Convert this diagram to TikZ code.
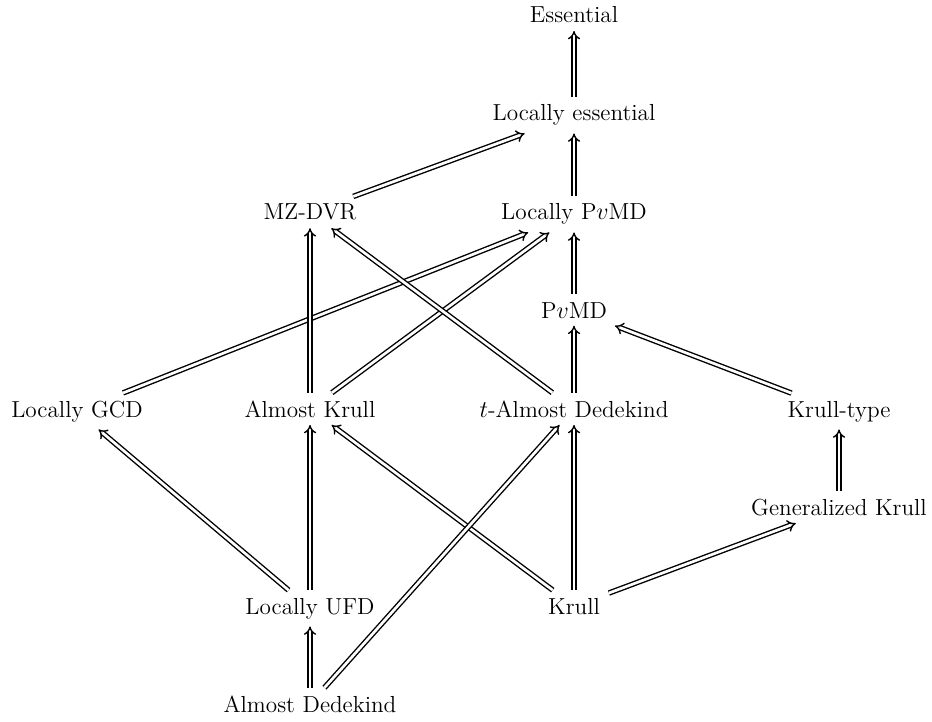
\documentclass[tikz,border=0pt]{standalone}
\usetikzlibrary{arrows.meta}
\begin{document}
\begin{tikzpicture}[x=0.5pt,y=-0.5pt,
  cell/.style={anchor=base,inner xsep=1ex,inner ysep=0.85ex,font=\fontsize{11.6}{13}\selectfont},
  impl/.style={double,double distance=1.35pt,line width=0.7pt,-{Implies}}]
\useasboundingbox (0,0) rectangle (932,722);
\node[cell] (ess) at (574,23) {Essential};
\node[cell] (locess) at (574,121) {Locally essential};
\node[cell] (mz) at (310,220) {MZ-DVR};
\node[cell] (locpvmd) at (574,220) {Locally P$v$MD};
\node[cell] (pvmd) at (574,318) {P$v$MD};
\node[cell] (locgcd) at (77,417) {Locally GCD};
\node[cell] (almkrull) at (310,417) {Almost Krull};
\node[cell] (tad) at (574,417) {$t$-Almost Dedekind};
\node[cell] (krtype) at (839,417) {Krull-type};
\node[cell] (genkrull) at (839,515) {Generalized Krull};
\node[cell] (locufd) at (310,614) {Locally UFD};
\node[cell] (krull) at (574,614) {Krull};
\node[cell] (almded) at (310,712) {Almost Dedekind};
\draw[impl] (locess) -- (ess);
\draw[impl] (mz) -- (locess);
\draw[impl] (locpvmd) -- (locess);
\draw[impl] (pvmd) -- (locpvmd);
\draw[impl] (locgcd) -- (locpvmd);
\draw[impl] (almkrull) -- (locpvmd);
\draw[impl] (almkrull) -- (mz);
\draw[impl] (tad) -- (mz);
\draw[impl] (tad) -- (pvmd);
\draw[impl] (krtype) -- (pvmd);
\draw[impl] (genkrull) -- (krtype);
\draw[impl] (locufd) -- (locgcd);
\draw[impl] (locufd) -- (almkrull);
\draw[impl] (krull) -- (almkrull);
\draw[impl] (krull) -- (tad);
\draw[impl] (krull) -- (genkrull);
\draw[impl] (almded) -- (locufd);
\draw[impl] (almded) -- (tad);
\end{tikzpicture}
\end{document}
